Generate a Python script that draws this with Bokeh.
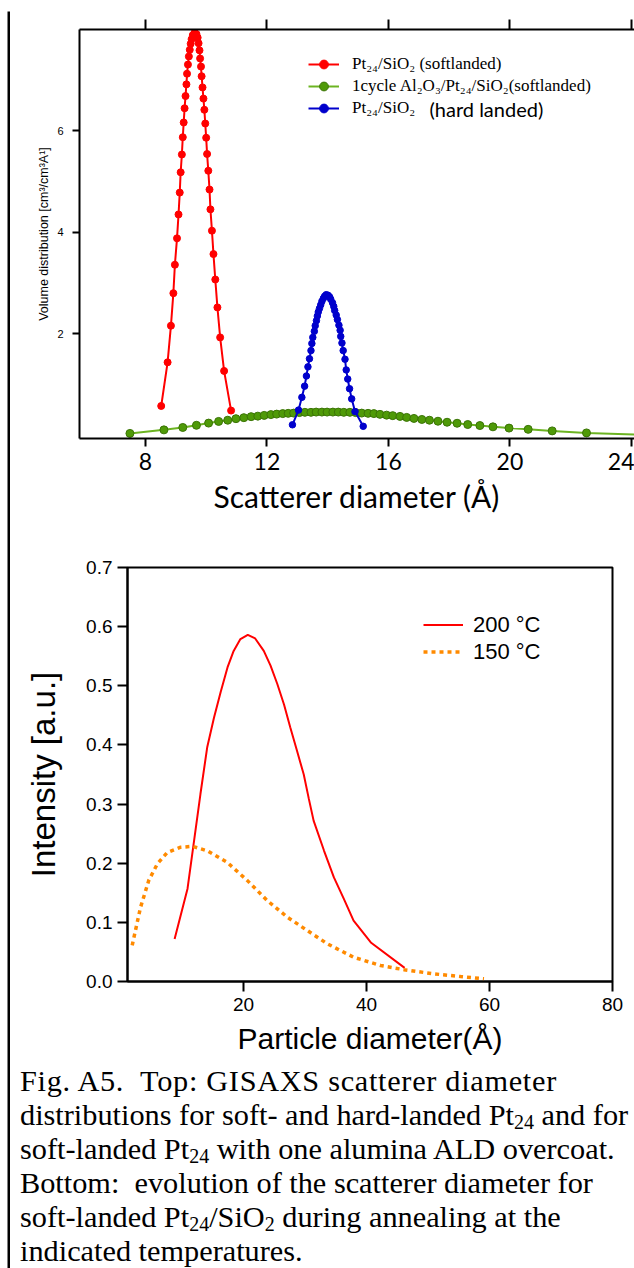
from bokeh.plotting import figure
from bokeh.models import (Legend, LegendItem, LinearAxis, FixedTicker, Div, Range1d,
                          PrintfTickFormatter, Label, Spacer)
from bokeh.layouts import column, row
from bokeh.embed import file_html
from bokeh.resources import INLINE

# ---------------- data: top chart (GISAXS volume distributions) ----------------
red_x = [8.52, 8.73, 8.84, 8.92, 8.97, 9.04, 9.09, 9.13, 9.16, 9.20, 9.23, 9.26, 9.29, 9.32,
         9.35, 9.37, 9.40, 9.43, 9.46, 9.49, 9.52, 9.56, 9.62, 9.68, 9.72, 9.75, 9.78, 9.80,
         9.83, 9.85, 9.88, 9.91, 9.94, 9.97, 10.00, 10.03, 10.07, 10.11, 10.14, 10.19, 10.24,
         10.30, 10.37, 10.46, 10.59, 10.82]
red_y = [0.58, 1.44, 2.16, 2.80, 3.36, 3.88, 4.35, 4.78, 5.18, 5.53, 5.87, 6.16, 6.44, 6.68,
         6.91, 7.12, 7.30, 7.46, 7.59, 7.71, 7.80, 7.88, 7.93, 7.90, 7.83, 7.72, 7.58, 7.42,
         7.26, 7.07, 6.85, 6.63, 6.41, 6.14, 5.86, 5.54, 5.21, 4.84, 4.45, 4.03, 3.57,
         3.07, 2.52, 1.93, 1.27, 0.49]

green_x = [7.49, 8.61, 9.23, 9.68, 10.08, 10.41, 10.71, 10.98, 11.24, 11.48, 11.70, 11.91,
           12.13, 12.32, 12.52, 12.70, 12.88, 13.07, 13.25, 13.45, 13.62, 13.81, 13.98, 14.17,
           14.35, 14.53, 14.73, 14.92, 15.12, 15.33, 15.52, 15.72, 15.94, 16.14, 16.38, 16.60,
           16.84, 17.10, 17.35, 17.63, 17.93, 18.26, 18.61, 19.01, 19.44, 19.97, 20.60, 21.39,
           22.52, 24.40]
green_y = [0.04, 0.11, 0.157, 0.20, 0.243, 0.276, 0.30, 0.33, 0.35, 0.37, 0.38, 0.395,
           0.41, 0.42, 0.43, 0.435, 0.44, 0.45, 0.455, 0.455, 0.46, 0.46, 0.46, 0.46,
           0.46, 0.455, 0.455, 0.45, 0.44, 0.435, 0.43, 0.415, 0.40, 0.39, 0.375, 0.355,
           0.335, 0.315, 0.30, 0.28, 0.26, 0.24, 0.215, 0.195, 0.17, 0.145, 0.12, 0.09,
           0.05, 0.015]

blue_x = [12.84, 13.04, 13.15, 13.24, 13.30, 13.35, 13.40, 13.45, 13.48, 13.51, 13.56, 13.59,
          13.63, 13.66, 13.69, 13.73, 13.77, 13.81, 13.86, 13.90, 13.95, 14.01, 14.06, 14.10,
          14.16, 14.20, 14.23, 14.28, 14.32, 14.37, 14.41, 14.43, 14.47, 14.51, 14.57, 14.61,
          14.66, 14.72, 14.79, 14.90, 15.17]
blue_y = [0.21, 0.50, 0.75, 0.97, 1.17, 1.35, 1.51, 1.67, 1.81, 1.93, 2.05, 2.16, 2.26, 2.35,
          2.43, 2.50, 2.57, 2.64, 2.70, 2.74, 2.77, 2.76, 2.73, 2.68, 2.61, 2.54, 2.46, 2.37,
          2.28, 2.17, 2.07, 1.95, 1.82, 1.67, 1.50, 1.29, 1.11, 0.92, 0.72, 0.47, 0.18]

top_labels = ["Pt\u2082\u2084/SiO\u2082 (softlanded)",
              "1cycle Al\u2082O\u2083/Pt\u2082\u2084/SiO\u2082(softlanded)",
              "Pt\u2082\u2084/SiO\u2082"]
top_label_tail = "(hard landed)"
top_xticks = [8, 12, 16, 20, 24]
top_yticks = [2, 4, 6]

# ---------------- data: bottom chart (annealing) ----------------
t200_x = [8.8, 10.9, 11.9, 13.0, 14.1, 15.2, 16.3, 17.4, 18.4, 19.5, 20.7, 21.9, 23.3, 24.4,
          25.5, 26.6, 27.6, 28.7, 29.8, 30.6, 31.4, 33.1, 34.7, 36.3, 37.9, 40.7, 46.2]
t200_y = [0.072, 0.157, 0.233, 0.317, 0.396, 0.446, 0.490, 0.531, 0.559, 0.579, 0.586, 0.580,
          0.559, 0.534, 0.503, 0.468, 0.430, 0.390, 0.350, 0.310, 0.272, 0.221, 0.176, 0.140,
          0.103, 0.066, 0.023]
t150_x = [1.9, 3.25, 4.6, 6.0, 7.6, 9.8, 11.7, 14.1, 17.35, 20.6, 23.85, 27.1, 30.4, 33.6,
          37.9, 42.3, 46.1, 50.9, 55.3, 59.1]
t150_y = [0.061, 0.125, 0.171, 0.199, 0.218, 0.227, 0.2285, 0.221, 0.2015, 0.171, 0.137,
          0.109, 0.086, 0.064, 0.041, 0.027, 0.020, 0.013, 0.0084, 0.0045]
bot_labels = ["200 \u00b0C", "150 \u00b0C"]
bot_xticks = [20, 40, 60, 80]
bot_yticks = [0.0, 0.1, 0.2, 0.3, 0.4, 0.5, 0.6, 0.7]

caption_lines = [
    "Fig. A5.&nbsp; Top: GISAXS scatterer diameter",
    "distributions for soft- and hard-landed Pt<SUB>24</SUB> and for",
    "soft-landed Pt<SUB>24</SUB> with one alumina ALD overcoat.",
    "Bottom:&nbsp; evolution of the scatterer diameter for",
    "soft-landed Pt<SUB>24</SUB>/SiO<SUB>2</SUB> during annealing at the",
    "indicated temperatures.",
]

SANS = "Liberation Sans"
SERIF = "Liberation Serif"


def style_axis(ax, tick_out, lab_font, lab_size, lab_standoff):
    ax.axis_line_width = 2
    ax.axis_line_color = "black"
    ax.major_tick_line_width = 2
    ax.major_tick_line_color = "black"
    ax.major_tick_in = 0
    ax.major_tick_out = tick_out
    ax.minor_tick_out = 0
    ax.minor_tick_in = 0
    ax.major_label_text_font = lab_font
    ax.major_label_text_font_size = lab_size
    ax.major_label_text_color = "black"
    ax.major_label_standoff = lab_standoff
    ax.axis_label_text_font_style = "normal"
    ax.axis_label_text_color = "black"


def bar(w, h):
    f = figure(width=w, height=h, output_backend="svg", toolbar_location=None,
               x_axis_location=None, y_axis_location=None, min_border=0,
               x_range=Range1d(0, 1), y_range=Range1d(0, 1))
    f.frame_align = False
    f.grid.visible = False
    f.outline_line_color = None
    f.background_fill_color = "black"
    f.border_fill_color = "black"
    return f


# ---------------- top figure ----------------
p1 = figure(width=624, height=519, output_backend="svg", toolbar_location=None,
            x_range=Range1d(5.83, 24.10), y_range=Range1d(-0.06, 7.99),
            min_border_left=69, min_border_right=0, min_border_top=18, min_border_bottom=92)
p1.frame_align = False
p1.outline_line_color = None
p1.grid.visible = False
p1.background_fill_color = None
p1.border_fill_color = "white"

xa = p1.xaxis[0]
xa.ticker = FixedTicker(ticks=top_xticks)
style_axis(xa, 8, "Lato", "23px", 6)
xa.axis_label = "Scatterer diameter (\u00c5)"
xa.axis_label_text_font = "Lato"
xa.axis_label_text_font_size = "30px"
xa.axis_label_standoff = 5

ya = p1.yaxis[0]
ya.ticker = FixedTicker(ticks=top_yticks)
style_axis(ya, 7, SANS, "11px", 9)
ya.axis_label = "Volume distribution [cm\u00b3/cm\u00b3A\u00b9]"
ya.axis_label_text_font = SANS
ya.axis_label_text_font_size = "12.5px"
ya.axis_label_standoff = 3

ax_top = LinearAxis(ticker=FixedTicker(ticks=top_xticks),
                    major_label_overrides={t: "" for t in top_xticks})
style_axis(ax_top, 10, SANS, "11px", 0)
p1.add_layout(ax_top, "above")

g_line = p1.line(green_x, green_y, line_color="#6cb422", line_width=2)
g_pts = p1.scatter(green_x, green_y, size=8, fill_color="#4f9a08", line_color="#3b7406",
                   line_width=1)
r_line = p1.line(red_x, red_y, line_color="#ff0000", line_width=2)
r_pts = p1.scatter(red_x, red_y, size=7, fill_color="#ff0000", line_color="#ff0000")
b_line = p1.line(blue_x, blue_y, line_color="#0000cc", line_width=2)
b_pts = p1.scatter(blue_x, blue_y, size=6.5, fill_color="#0000cc", line_color="#0000cc")

leg1 = Legend(items=[LegendItem(label=top_labels[0], renderers=[r_line, r_pts]),
                     LegendItem(label=top_labels[1], renderers=[g_line, g_pts]),
                     LegendItem(label=top_labels[2], renderers=[b_line, b_pts])],
              location=(229, 319), padding=0, margin=0, spacing=0,
              glyph_width=31, glyph_height=22, label_height=22, label_standoff=13,
              label_text_font=SERIF, label_text_font_size="17px", label_text_color="black",
              border_line_color=None, background_fill_alpha=0)
p1.add_layout(leg1)
p1.add_layout(Label(x=350, y=330, x_units="screen", y_units="screen", text=top_label_tail,
                    text_font="Lato", text_font_size="20px", text_color="black",
                    text_baseline="middle", text_align="left"))

# ---------------- bottom figure ----------------
p2 = figure(width=624, height=532, output_backend="svg", toolbar_location=None,
            x_range=Range1d(1.14, 80), y_range=Range1d(0, 0.7),
            min_border_left=117, min_border_right=22, min_border_top=37, min_border_bottom=81)
p2.frame_align = False
p2.grid.visible = False
p2.outline_line_color = "black"
p2.outline_line_width = 2
p2.outline_line_alpha = 1

xb = p2.xaxis[0]
xb.ticker = FixedTicker(ticks=bot_xticks)
style_axis(xb, 10, SANS, "19px", 6)
xb.axis_label = "Particle diameter(\u00c5)"
xb.axis_label_text_font = SANS
xb.axis_label_text_font_size = "30px"
xb.axis_label_standoff = 8

yb = p2.yaxis[0]
yb.ticker = FixedTicker(ticks=bot_yticks)
yb.formatter = PrintfTickFormatter(format="%.1f")
style_axis(yb, 10, SANS, "19px", 5)
yb.axis_label = "Intensity [a.u.]"
yb.axis_label_text_font = SANS
yb.axis_label_text_font_size = "33px"
yb.axis_label_standoff = 21

l200 = p2.line(t200_x, t200_y, line_color="#ff0000", line_width=2)
l150 = p2.line(t150_x, t150_y, line_color="#ff8a00", line_width=3.5, line_dash="4 4")

leg2 = Legend(items=[LegendItem(label=bot_labels[0], renderers=[l200]),
                     LegendItem(label=bot_labels[1], renderers=[l150])],
              location=(296, 316), padding=0, margin=0, spacing=0,
              glyph_width=40, glyph_height=27, label_height=27, label_standoff=10,
              label_text_font=SANS, label_text_font_size="22px", label_text_color="black",
              border_line_color=None, background_fill_alpha=0)
p2.add_layout(leg2)

# ---------------- caption ----------------
sub_style = "font-size:0.66em;vertical-align:-0.22em;line-height:0;"
html_lines = [ln.replace("<SUB>", f'<span style="{sub_style}">').replace("</SUB>", "</span>")
              for ln in caption_lines]
html_lines[0] = f'<span style="letter-spacing:0.7px;">{html_lines[0]}</span>'
cap_html = ('<div style="font-family:\'Liberation Serif\',serif;font-size:30.3px;'
            'line-height:34px;padding-left:10px;padding-top:2px;white-space:nowrap;'
            'color:black;margin:0;">'
            + "<br>".join(html_lines) + "</div>")
cap = Div(text=cap_html, width=624, height=206, margin=0, styles={"overflow": "hidden"})

# ---------------- frame lines of the composite figure ----------------
top_bar = bar(627, 2)
left_bar = bar(3, 1257)
stub = bar(7, 2)

layout = column(
    Spacer(width=634, height=9),
    row(Spacer(width=7, height=2), top_bar),
    row(column(Spacer(width=7, height=2), stub), left_bar, column(p1, p2, cap)),
)

open("out.html", "w").write(file_html(layout, INLINE))
